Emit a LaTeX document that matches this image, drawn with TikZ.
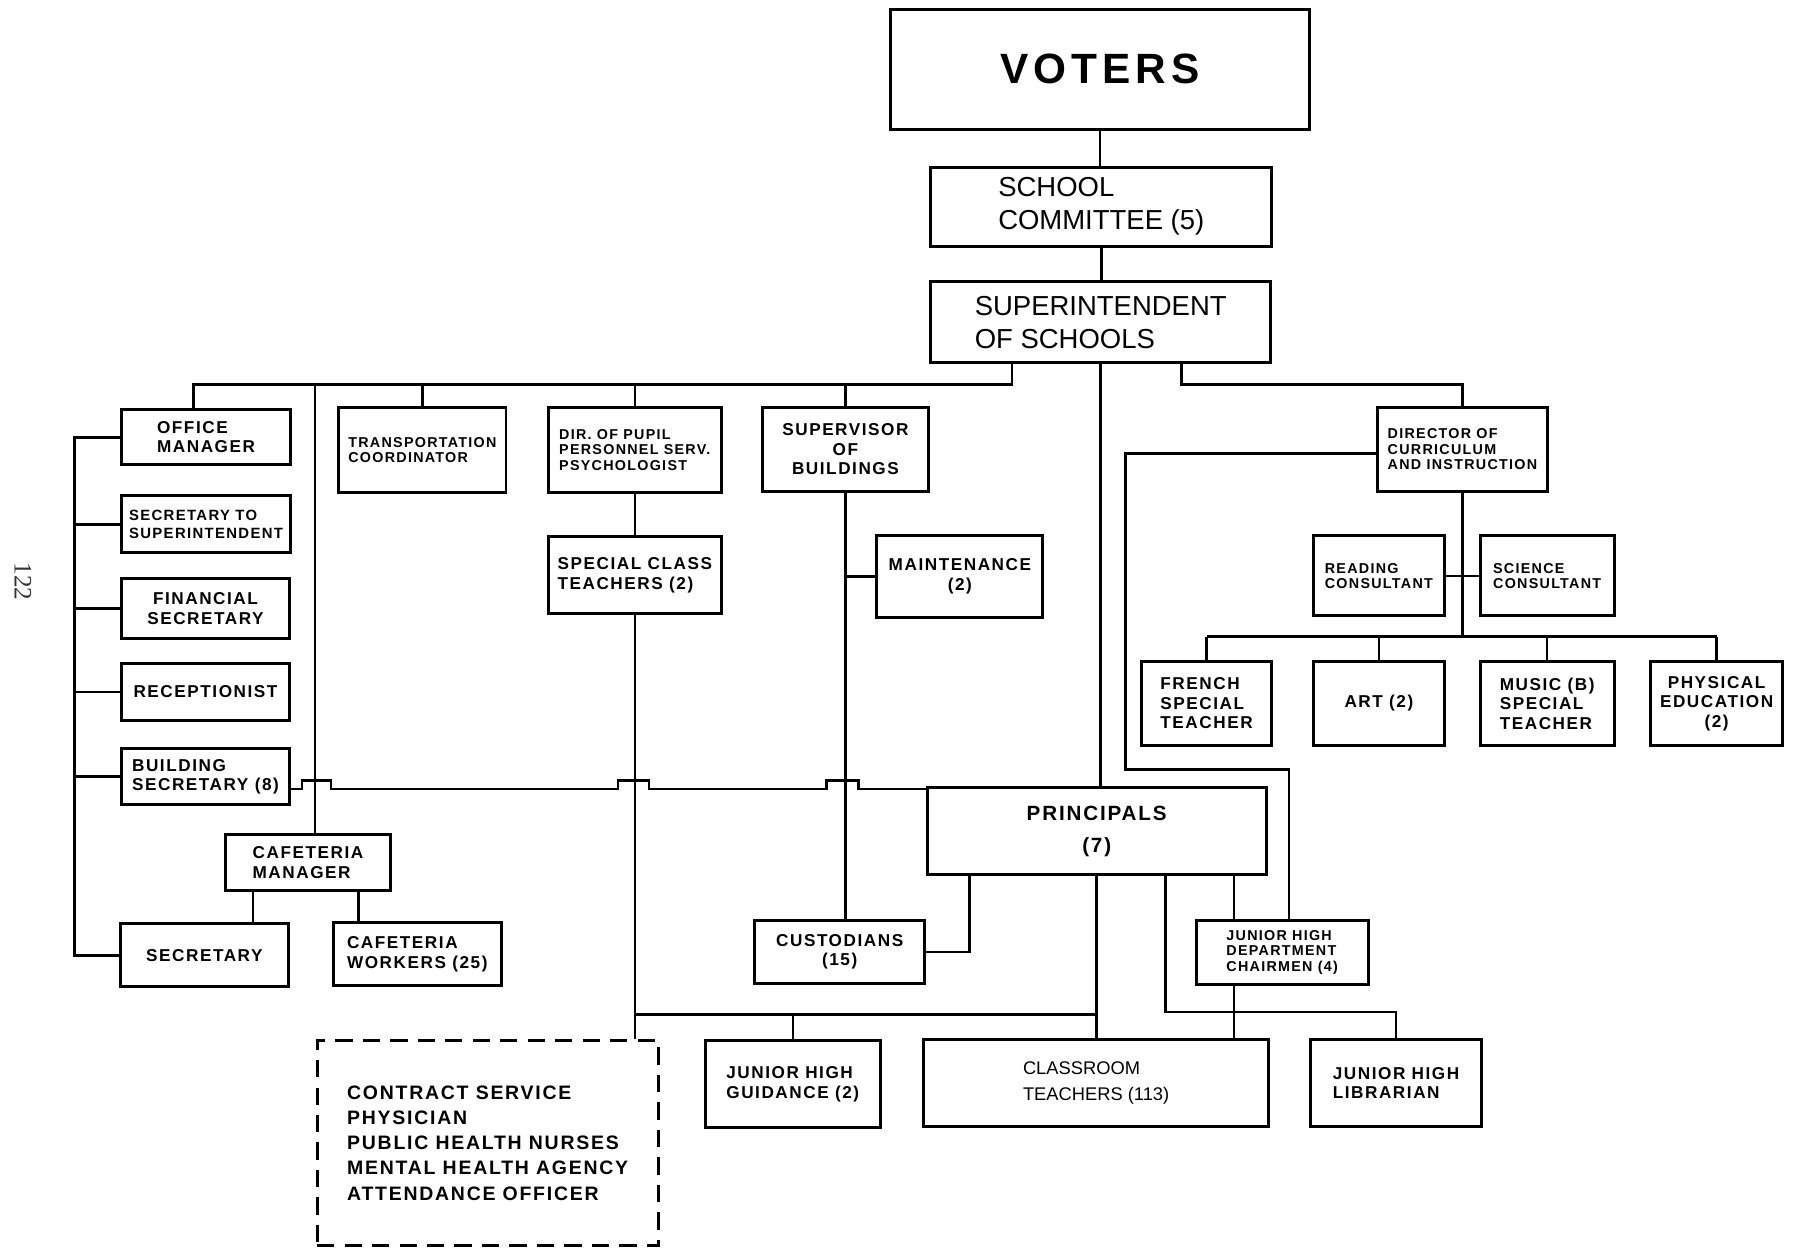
\documentclass[tikz,border=0pt]{standalone}
\usepackage{fontspec}
\setmainfont{Liberation Sans}
\newfontfamily\spaced[LetterSpace=9]{Liberation Sans Bold}
\newfontfamily\votersfont[LetterSpace=12]{Liberation Sans Bold}
\newfontfamily\pagefont{Liberation Serif}
\tikzset{
  box/.style={draw, line width=2.6pt, inner sep=0pt, align=left},
  conn/.style={line width=2.2pt},
  textbig/.style={font=\spaced\fontsize{15}{17}\selectfont},
  textsmall/.style={font=\spaced\fontsize{12.5}{13.5}\selectfont},
}
\begin{document}
\begin{tikzpicture}[x=1pt, y=-1pt]
\useasboundingbox (0,0) rectangle (1568,1098);
\node[rotate=-90, font=\pagefont\fontsize{22}{24}\selectfont, text=black!80] (pagenum) at (20,508) {122};
% top of the chart
\node[box, align=center, minimum width=366pt, minimum height=105pt, font=\votersfont\fontsize{37}{40}\selectfont] (voters) at (961,60.5) {VOTERS};
\node[box, minimum width=298pt, minimum height=69pt, font=\fontsize{24}{29}\selectfont] (committee) at (962,180.5) {SCHOOL\\COMMITTEE (5)};
\node[box, minimum width=297pt, minimum height=71pt, font=\fontsize{24}{29}\selectfont] (supt) at (961.5,281.5) {SUPERINTENDENT\\OF SCHOOLS};
% second row
\node[box, textbig, minimum width=148pt, minimum height=48pt] (officemgr) at (180,382) {OFFICE\\MANAGER};
\node[box, textsmall, minimum width=146pt, minimum height=74pt] (transport) at (369,393) {TRANSPORTATION\\COORDINATOR};
\node[box, textsmall, minimum width=151pt, minimum height=74pt] (pupil) at (554.5,393) {DIR. OF PUPIL\\PERSONNEL SERV.\\PSYCHOLOGIST};
\node[box, textbig, align=center, minimum width=145pt, minimum height=73pt] (superv) at (738.5,392.5) {SUPERVISOR\\OF\\BUILDINGS};
\node[box, textsmall, minimum width=149pt, minimum height=73pt] (curric) at (1277.5,392.5) {DIRECTOR OF\\CURRICULUM\\AND INSTRUCTION};
% office staff
\node[box, font=\spaced\fontsize{13}{15}\selectfont, minimum width=148pt, minimum height=50pt] (secsup) at (180,458) {SECRETARY TO\\SUPERINTENDENT};
\node[box, textbig, align=center, minimum width=147pt, minimum height=53pt] (finsec) at (179.5,531.5) {FINANCIAL\\SECRETARY};
\node[box, textbig, minimum width=147pt, minimum height=49pt] (recept) at (179.5,604.5) {RECEPTIONIST};
\node[box, textbig, minimum width=147pt, minimum height=49pt] (bldgsec) at (179.5,678.5) {BUILDING\\SECRETARY (8)};
\node[box, textbig, minimum width=144pt, minimum height=49pt] (cafmgr) at (269,753.5) {CAFETERIA\\MANAGER};
\node[box, textbig, minimum width=147pt, minimum height=55pt] (secretary) at (178.5,834.5) {SECRETARY};
\node[box, textbig, minimum width=147pt, minimum height=55pt] (cafwork) at (364.5,833.5) {CAFETERIA\\WORKERS (25)};
% pupil services and buildings
\node[box, textbig, minimum width=151pt, minimum height=67pt] (special) at (554.5,502.5) {SPECIAL CLASS\\TEACHERS (2)};
\node[box, textbig, align=center, minimum width=145pt, minimum height=71pt] (maint) at (838.5,503.5) {MAINTENANCE\\(2)};
\node[box, textbig, align=center, minimum width=149pt, minimum height=55pt] (custod) at (733.5,831.5) {CUSTODIANS\\(15)};
% curriculum
\node[box, textsmall, minimum width=115pt, minimum height=70pt] (reading) at (1204.5,503) {READING\\CONSULTANT};
\node[box, textsmall, minimum width=117pt, minimum height=70pt] (science) at (1351.5,503) {SCIENCE\\CONSULTANT};
\node[box, textbig, minimum width=114pt, minimum height=73pt] (french) at (1054,614.5) {FRENCH\\SPECIAL\\TEACHER};
\node[box, textbig, minimum width=115pt, minimum height=73pt] (art) at (1204.5,614.5) {ART (2)};
\node[box, textbig, minimum width=117pt, minimum height=73pt] (music) at (1351.5,614.5) {MUSIC (B)\\SPECIAL\\TEACHER};
\node[box, textbig, align=center, minimum width=115pt, minimum height=73pt] (pe) at (1499.5,614.5) {PHYSICAL\\EDUCATION\\(2)};
% schools
\node[box, align=center, minimum width=296pt, minimum height=76pt, font=\spaced\fontsize{18}{28}\selectfont] (principals) at (958,726) {PRINCIPALS\\(7)};
\node[box, textsmall, minimum width=150pt, minimum height=56pt] (jhdept) at (1120,832) {JUNIOR HIGH\\DEPARTMENT\\CHAIRMEN (4)};
\node[box, textbig, minimum width=153pt, minimum height=76pt] (guidance) at (692.5,947) {JUNIOR HIGH\\GUIDANCE (2)};
\node[box, minimum width=301pt, minimum height=76pt, font=\fontsize{16}{22}\selectfont] (classroom) at (957.5,946) {CLASSROOM\\TEACHERS (113)};
\node[box, textbig, minimum width=149pt, minimum height=76pt] (librarian) at (1219.5,946) {JUNIOR HIGH\\LIBRARIAN};
\node[box, dash pattern=on 15pt off 9pt, minimum width=298pt, minimum height=179pt, font=\spaced\fontsize{17}{22}\selectfont] (contract) at (426,998.5) {CONTRACT SERVICE\\PHYSICIAN\\PUBLIC HEALTH NURSES\\MENTAL HEALTH AGENCY\\ATTENDANCE OFFICER};
% bends of the connectors
\coordinate (lb) at (884,336);
\coordinate (lbend) at (169,336);
\coordinate (cafx) at (275,336);
\coordinate (rb) at (1032,336);
\coordinate (lc) at (65,383);
\coordinate (bsy) at (0,689);
\coordinate (gb) at (555,886);
\coordinate (pc) at (847,829);
\coordinate (pl) at (1018,884);
\coordinate (pj) at (1078,804);
\coordinate (dl) at (983,396);
\coordinate (dr) at (1126,672);
\coordinate (cb) at (1278,556);
\coordinate (cm1) at (221,778);
\coordinate (cm2) at (313,778);
% connectors
\draw[conn] (voters.south) -- (voters.south |- committee.north);
\draw[conn] (committee.south) -- (committee.south |- supt.north);
\draw[conn] (supt.south) -- (supt.south |- principals.north);
\draw[conn] (supt.south -| lb) -- (lb) -- (lbend) -- (lbend |- officemgr.north);
\draw[conn] (cafx) -- (cafx |- cafmgr.north);
\draw[conn] (transport.north) -- (transport.north |- lb);
\draw[conn] (pupil.north) -- (pupil.north |- lb);
\draw[conn] (superv.north) -- (superv.north |- lb);
\draw[conn] (supt.south -| rb) -- (rb) -- (rb -| curric.north) -- (curric.north);
\draw[conn] (officemgr.west) -- (officemgr.west -| lc) -- (secretary.west -| lc) -- (secretary.west);
\draw[conn] (secsup.west) -- (secsup.west -| lc);
\draw[conn] (finsec.west) -- (finsec.west -| lc);
\draw[conn] (recept.west) -- (recept.west -| lc);
\draw[conn] (bldgsec.west) -- (bldgsec.west -| lc);
\draw[conn] (bldgsec.east |- bsy) -- (264,689) -- (264,682) -- (289,682) -- (289,689) -- (540,689) -- (540,682) -- (567,682) -- (567,689) -- (722,689) -- (722,682) -- (750,682) -- (750,689) -- (principals.west |- bsy);
\draw[conn] (cafmgr.south -| cm1) -- (cm1 |- secretary.north);
\draw[conn] (cafmgr.south -| cm2) -- (cm2 |- cafwork.north);
\draw[conn] (pupil.south) -- (special.north);
\draw[conn] (special.south) -- (special.south |- contract.north);
\draw[conn] (special.south |- gb) -- (principals.south |- gb);
\draw[conn] (guidance.north) -- (guidance.north |- gb);
\draw[conn] (superv.south) -- (superv.south |- custod.north);
\draw[conn] (maint.west) -- (maint.west -| superv.south);
\draw[conn] (principals.south) -- (principals.south |- classroom.north);
\draw[conn] (principals.south -| pc) -- (pc |- custod.east) -- (custod.east);
\draw[conn] (principals.south -| pl) -- (pl) -- (pl -| librarian.north) -- (librarian.north);
\draw[conn] (principals.south -| pj) -- (jhdept.north -| pj);
\draw[conn] (jhdept.south -| pj) -- (classroom.north -| pj);
\draw[conn] (curric.west |- dl) -- (dl) -- (dl |- dr) -- (dr) -- (dr |- jhdept.north);
\draw[conn] (curric.south) -- (curric.south |- cb);
\draw[conn] (reading.east) -- (science.west);
\draw[conn] (french.north |- cb) -- (pe.north |- cb);
\draw[conn] (french.north) -- (french.north |- cb);
\draw[conn] (art.north) -- (art.north |- cb);
\draw[conn] (music.north) -- (music.north |- cb);
\draw[conn] (pe.north) -- (pe.north |- cb);
\end{tikzpicture}
\end{document}
